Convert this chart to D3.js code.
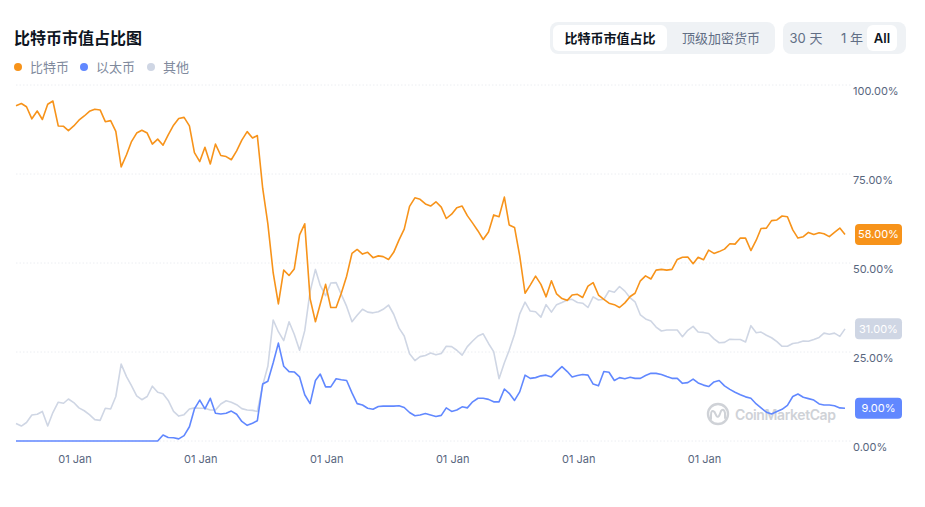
<!DOCTYPE html>
<html>
<head>
<meta charset="utf-8">
<script src="https://cdn.jsdelivr.net/npm/d3@7"></script>
<style>
  body { margin: 0; background: #fff; }
  svg { display: block; font-family: Inter, "Noto Sans CJK SC", "Noto Sans", sans-serif; }
</style>
</head>
<body>
<div id="chart"></div>
<script>
// monthly samples, May 2013 .. Jul 2026 (values in %)
const months = d3.timeMonth.range(new Date(2013, 4, 1), new Date(2026, 7, 1));

const btcValues = [
  94.2, 94.8, 93.9, 90.5, 92.7, 90.3, 94.6, 95.5, 88.5, 88.4,
  87.2, 88.5, 90.1, 91.3, 92.6, 93.2, 93.0, 89.7, 90.0, 87.0,
  77.0, 80.4, 84.0, 86.5, 87.3, 86.5, 83.4, 84.8, 83.1, 86.0,
  88.7, 90.6, 90.9, 88.5, 81.0, 78.5, 82.5, 77.8, 83.4, 80.2,
  79.9, 79.0, 81.5, 84.5, 86.9, 85.1, 85.8, 71.0, 61.0, 47.2,
  38.5, 48.0, 46.5, 48.3, 57.9, 61.0, 40.0, 33.5, 38.5, 44.0,
  37.5, 37.5, 41.5, 46.3, 52.7, 53.8, 52.5, 53.0, 51.5, 52.0,
  51.8, 51.0, 53.0, 56.5, 59.5, 65.9, 68.3, 67.9, 66.6, 66.0,
  67.2, 65.7, 62.5, 63.7, 65.5, 66.0, 63.3, 61.2, 59.0, 56.6,
  58.7, 63.5, 63.0, 68.5, 60.7, 60.0, 52.0, 41.5, 43.8, 46.3,
  44.0, 40.5, 45.0, 41.3, 40.0, 39.5, 41.0, 41.2, 40.3, 43.5,
  44.5, 41.0, 39.8, 38.7, 38.3, 37.5, 38.8, 40.6, 41.5, 45.0,
  46.4, 45.5, 48.0, 48.2, 48.0, 48.2, 51.0, 51.6, 51.7, 49.8,
  51.6, 50.9, 53.6, 52.7, 53.2, 53.9, 55.4, 55.3, 57.0, 57.0,
  53.5, 56.4, 59.7, 59.8, 61.9, 62.1, 63.2, 63.0, 59.3, 57.0,
  57.4, 58.6, 58.0, 58.5, 58.2, 57.4, 58.6, 59.8, 58.0
];

const ethValues = [
  0, 0, 0, 0, 0, 0, 0, 0, 0, 0,
  0, 0, 0, 0, 0, 0, 0, 0, 0, 0,
  0, 0, 0, 0, 0, 0, 0, 0, 1.7, 1.0,
  0.9, 0.6, 1.5, 4.0, 9.0, 11.5, 9.0, 12.0, 7.8, 7.6,
  7.8, 8.4, 7.5, 5.5, 4.4, 5.0, 5.7, 16.0, 16.8, 22.0,
  27.5, 21.0, 19.5, 19.4, 18.0, 13.0, 10.5, 17.0, 18.8, 15.2,
  15.2, 17.5, 17.2, 17.0, 13.5, 10.5, 10.1, 9.2, 8.9, 9.7,
  9.8, 9.8, 9.8, 9.9, 9.4, 8.0, 7.1, 7.3, 7.7, 7.3,
  6.9, 7.2, 9.3, 8.3, 8.7, 9.6, 9.3, 11.0, 12.0, 12.0,
  11.7, 11.0, 11.0, 14.6, 13.4, 11.4, 13.8, 18.5, 17.6, 17.8,
  18.3, 18.5, 18.0, 19.5, 20.9, 19.5, 18.0, 18.4, 18.7, 18.5,
  16.0, 15.5, 19.5, 19.3, 17.0, 17.8, 17.5, 17.9, 17.6, 17.6,
  18.4, 19.0, 19.0, 18.7, 18.1, 17.6, 17.6, 16.2, 16.4, 17.4,
  16.3, 15.7, 15.3, 16.6, 17.0, 15.5, 14.5, 13.7, 13.0, 12.4,
  12.0, 10.4, 9.3, 8.1, 7.6, 8.3, 8.9, 10.0, 12.5, 13.2,
  12.3, 11.9, 11.5, 10.4, 10.1, 10.1, 9.9, 9.3, 9.2
];

const otherValues = [
  4.9, 4.2, 5.2, 7.3, 7.5, 8.3, 4.2, 8.0, 10.9, 10.6,
  11.8, 10.8, 9.3, 8.5, 7.4, 6.0, 5.8, 9.2, 9.0, 12.5,
  21.6, 18.1, 15.6, 12.7, 11.6, 12.5, 15.4, 13.7, 13.3, 11.4,
  8.3, 7.0, 7.4, 9.0, 9.3, 9.2, 9.2, 8.7, 8.7, 10.4,
  11.3, 10.9, 10.2, 9.1, 8.7, 8.6, 8.3, 15.7, 21.0, 34.0,
  30.7, 28.2, 33.5, 30.0, 25.5, 31.0, 42.0, 48.2, 43.7, 40.8,
  44.4, 44.5, 41.2, 37.8, 33.5, 35.3, 37.0, 36.2, 36.0, 36.3,
  37.0, 38.2, 35.6, 31.7, 29.5, 24.5, 22.6, 23.7, 24.0, 24.7,
  24.2, 24.6, 26.6, 26.5, 25.5, 24.1, 26.5, 28.1, 29.5, 30.1,
  27.4, 25.1, 17.5, 22.0, 25.5, 30.0, 35.7, 39.0, 36.5, 36.3,
  34.8, 38.3, 36.2, 38.3, 38.9, 39.6, 39.8, 38.9, 38.7, 37.5,
  40.5, 39.6, 39.8, 42.2, 41.8, 43.4, 42.1, 40.2, 39.1, 35.4,
  34.3, 33.7, 32.0, 30.9, 31.2, 31.2, 31.2, 29.3, 31.1, 32.2,
  30.6, 30.5, 30.2, 28.7, 27.6, 27.7, 28.6, 28.5, 28.5, 27.8,
  32.4, 30.4, 30.6, 29.7, 29.0, 27.9, 26.6, 26.6, 27.4, 27.6,
  28.1, 28.0, 28.5, 29.1, 30.3, 30.0, 30.3, 29.4, 31.5
];

const seriesNames = ["比特币", "以太币", "其他"];
const seriesColors = ["#f7931a", "#6188ff", "#cfd6e4"];
const lastLabels = ["58.00%", "9.00%", "31.00%"];
const yTicks = [0, 25, 50, 75, 100];
const xTickYears = [2014, 2016, 2018, 2020, 2022, 2024];

const width = 925, height = 507;

const svg = d3.select("#chart").append("svg")
  .attr("width", width)
  .attr("height", height);

const x = d3.scaleTime()
  .domain(d3.extent(months))
  .range([16, 845]);

const y = d3.scaleLinear()
  .domain([0, 100])
  .range([441, 85]);

// title
svg.append("text")
  .attr("x", 14).attr("y", 44)
  .attr("font-size", 16).attr("font-weight", 700)
  .attr("fill", "#0d1421")
  .text("比特币市值占比图");

// legend
const legend = svg.append("g").selectAll("g")
  .data(seriesNames)
  .join("g")
  .attr("transform", (d, i) => `translate(${[18, 84, 151][i]},67)`);
legend.append("circle").attr("r", 4).attr("fill", (d, i) => seriesColors[i]);
legend.append("text")
  .attr("x", 12).attr("dy", "0.35em")
  .attr("font-size", 13).attr("fill", "#808a9d")
  .text(d => d);

// toggle buttons
function buttonGroup(x0, x1, items) {
  const g = svg.append("g");
  g.append("rect")
    .attr("x", x0).attr("y", 22).attr("width", x1 - x0).attr("height", 32)
    .attr("rx", 8).attr("fill", "#eff2f5");
  items.forEach(it => {
    if (it.active) {
      g.append("rect")
        .attr("x", it.x0).attr("y", 25).attr("width", it.x1 - it.x0).attr("height", 26)
        .attr("rx", 6).attr("fill", "#fff");
    }
    g.append("text")
      .attr("x", it.cx).attr("y", 38).attr("dy", "0.35em")
      .attr("text-anchor", "middle")
      .attr("font-size", 13)
      .attr("font-weight", it.active ? 600 : 400)
      .attr("fill", it.active ? "#0d1421" : "#616e85")
      .text(it.label);
  });
}
buttonGroup(550, 775, [
  { label: "比特币市值占比", cx: 610, x0: 553, x1: 667, active: true },
  { label: "顶级加密货币", cx: 721 }
]);
buttonGroup(783, 906, [
  { label: "30 天", cx: 806 },
  { label: "1 年", cx: 852 },
  { label: "All", cx: 882, x0: 867, x1: 897, active: true }
]);

// grid + y labels
const grid = svg.append("g");
grid.selectAll("line")
  .data(yTicks)
  .join("line")
  .attr("x1", 16).attr("x2", 852)
  .attr("y1", d => y(d)).attr("y2", d => y(d))
  .attr("stroke", "#eceef2")
  .attr("stroke-dasharray", "1.5,2");
grid.selectAll("text")
  .data(yTicks)
  .join("text")
  .attr("x", 853).attr("y", d => y(d) + 6).attr("dy", "0.35em")
  .attr("font-size", 11).attr("fill", "#58667e")
  .text(d => d.toFixed(2) + "%");

// x axis labels
const fmt = d3.timeFormat("%d %b");
svg.append("g").selectAll("text")
  .data(xTickYears.map(yr => new Date(yr, 0, 1)))
  .join("text")
  .attr("x", d => x(d)).attr("y", 459).attr("dy", "0.35em")
  .attr("font-size", 11).attr("fill", "#58667e")
  .text(d => fmt(d));

// watermark
const wm = svg.append("g").attr("fill", "none").attr("stroke", "#cfd2d7");
wm.append("circle").attr("cx", 718).attr("cy", 414).attr("r", 10).attr("stroke-width", 2.4);
wm.append("path")
  .attr("d", "M711,419 L711,415 Q711,409 714.5,412 L716.5,416 Q718,418 719.5,415 L721,411 Q724,408 725,413 L725,418")
  .attr("stroke-width", 2).attr("stroke-linecap", "round");
svg.append("text")
  .attr("x", 735).attr("y", 415).attr("dy", "0.35em")
  .attr("font-size", 14).attr("font-weight", 600)
  .attr("textLength", 101)
  .attr("fill", "#cfd2d7")
  .text("CoinMarketCap");

// lines
const series = [btcValues, ethValues, otherValues];
const line = d3.line()
  .x((d, i) => x(months[i]))
  .y(d => y(d));

svg.append("g")
  .attr("fill", "none")
  .attr("stroke-width", 1.6)
  .attr("stroke-linejoin", "round")
  .selectAll("path")
  .data([2, 1, 0])
  .join("path")
  .attr("stroke", i => seriesColors[i])
  .attr("d", i => line(series[i]));

// last value badges
const badges = svg.append("g").selectAll("g")
  .data([0, 1, 2])
  .join("g")
  .attr("transform", i => `translate(855,${y(series[i][series[i].length - 1])})`);
badges.append("rect")
  .attr("x", 0).attr("y", -10.5).attr("width", 47).attr("height", 21)
  .attr("rx", 4)
  .attr("fill", i => seriesColors[i]);
badges.append("text")
  .attr("x", 23.5).attr("dy", "0.35em")
  .attr("text-anchor", "middle")
  .attr("font-size", 11).attr("fill", "#fff")
  .text(i => lastLabels[i]);
</script>
</body>
</html>
